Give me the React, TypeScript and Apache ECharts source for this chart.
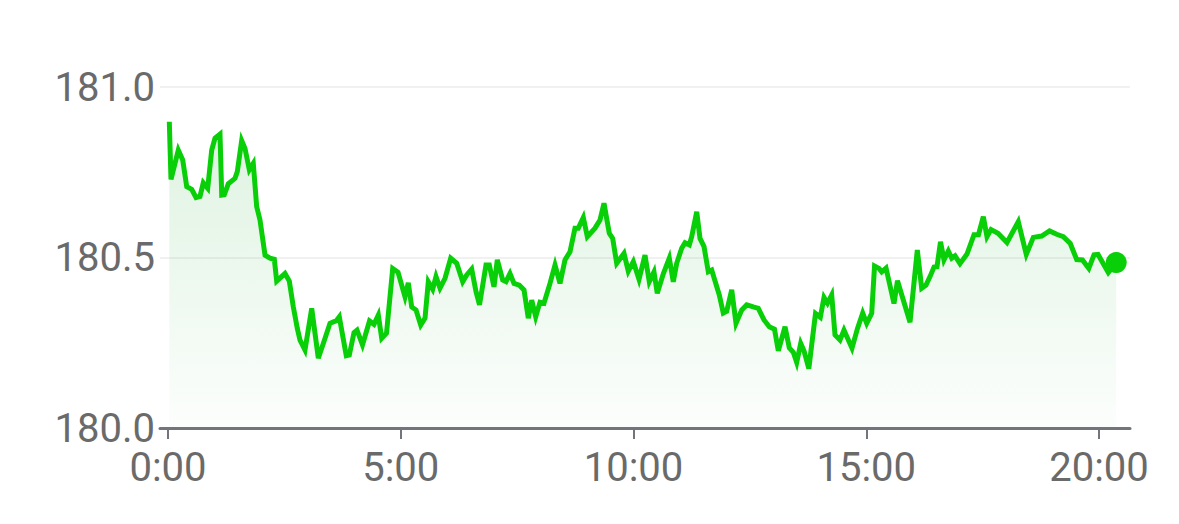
import React, { useEffect, useRef } from "react";
import * as echarts from "echarts";

// time in hours since 0:00
const hours: number[] = [
  0.028, 0.064, 0.221, 0.316, 0.402, 0.509, 0.602, 0.687, 0.758, 0.853,
  0.939, 1.010, 1.117, 1.154, 1.209, 1.295, 1.439, 1.489, 1.583, 1.654,
  1.747, 1.832, 1.905, 1.976, 2.084, 2.191, 2.284, 2.335, 2.513, 2.606,
  2.692, 2.778, 2.836, 2.943, 3.087, 3.229, 3.336, 3.480, 3.620, 3.680,
  3.830, 3.895, 3.996, 4.060, 4.178, 4.329, 4.425, 4.518, 4.591, 4.694,
  4.827, 4.941, 5.091, 5.162, 5.235, 5.328, 5.429, 5.521, 5.592, 5.686,
  5.757, 5.843, 5.951, 6.073, 6.202, 6.331, 6.417, 6.524, 6.617, 6.692,
  6.831, 6.902, 7.003, 7.074, 7.190, 7.261, 7.347, 7.433, 7.547, 7.648,
  7.740, 7.813, 7.899, 7.991, 8.077, 8.206, 8.314, 8.421, 8.528, 8.636,
  8.743, 8.814, 8.922, 9.008, 9.173, 9.280, 9.366, 9.480, 9.553, 9.639,
  9.796, 9.888, 9.996, 10.118, 10.247, 10.339, 10.440, 10.511, 10.640, 10.769,
  10.855, 10.928, 11.035, 11.106, 11.199, 11.250, 11.358, 11.429, 11.515, 11.607,
  11.680, 11.843, 11.929, 12.002, 12.110, 12.202, 12.325, 12.432, 12.574, 12.681,
  12.804, 12.917, 13.029, 13.111, 13.255, 13.347, 13.433, 13.506, 13.592, 13.663,
  13.766, 13.910, 14.013, 14.093, 14.168, 14.258, 14.329, 14.436, 14.522, 14.694,
  14.812, 14.924, 15.010, 15.117, 15.178, 15.274, 15.332, 15.425, 15.596, 15.671,
  15.940, 16.097, 16.191, 16.284, 16.370, 16.456, 16.520, 16.595, 16.670, 16.763,
  16.836, 16.907, 17.014, 17.164, 17.315, 17.411, 17.515, 17.594, 17.680, 17.830,
  18.023, 18.266, 18.438, 18.589, 18.769, 18.937, 19.091, 19.233, 19.383, 19.521,
  19.645, 19.781, 19.893, 19.979, 20.200, 20.370,
];

const prices: number[] = [
  180.898, 180.729, 180.815, 180.786, 180.708, 180.700, 180.676, 180.679, 180.719, 180.703,
  180.815, 180.850, 180.862, 180.683, 180.684, 180.716, 180.732, 180.752, 180.843, 180.820,
  180.757, 180.776, 180.649, 180.610, 180.507, 180.498, 180.495, 180.431, 180.453, 180.431,
  180.355, 180.292, 180.258, 180.229, 180.351, 180.205, 180.248, 180.307, 180.315, 180.326,
  180.212, 180.214, 180.280, 180.287, 180.244, 180.314, 180.304, 180.331, 180.263, 180.278,
  180.468, 180.457, 180.385, 180.426, 180.355, 180.346, 180.302, 180.322, 180.429, 180.407,
  180.444, 180.410, 180.439, 180.498, 180.483, 180.429, 180.449, 180.466, 180.400, 180.361,
  180.478, 180.478, 180.414, 180.493, 180.434, 180.429, 180.453, 180.424, 180.419, 180.405,
  180.322, 180.375, 180.326, 180.369, 180.366, 180.424, 180.478, 180.424, 180.493, 180.517,
  180.586, 180.586, 180.617, 180.561, 180.586, 180.610, 180.659, 180.571, 180.556, 180.483,
  180.512, 180.460, 180.488, 180.436, 180.507, 180.429, 180.458, 180.395, 180.452, 180.498,
  180.429, 180.483, 180.527, 180.543, 180.537, 180.561, 180.634, 180.556, 180.532, 180.458,
  180.463, 180.390, 180.337, 180.342, 180.405, 180.307, 180.346, 180.361, 180.355, 180.351,
  180.317, 180.297, 180.290, 180.226, 180.297, 180.235, 180.222, 180.192, 180.248, 180.226,
  180.174, 180.336, 180.325, 180.383, 180.366, 180.390, 180.273, 180.258, 180.287, 180.234,
  180.292, 180.337, 180.307, 180.336, 180.475, 180.468, 180.458, 180.469, 180.365, 180.432,
  180.310, 180.522, 180.410, 180.419, 180.444, 180.472, 180.473, 180.546, 180.493, 180.519,
  180.498, 180.505, 180.482, 180.510, 180.567, 180.567, 180.620, 180.561, 180.582, 180.571,
  180.544, 180.605, 180.509, 180.559, 180.563, 180.578, 180.568, 180.561, 180.541, 180.494,
  180.493, 180.468, 180.508, 180.509, 180.456, 180.485,
];

const xTicks: number[] = [0, 5, 10, 15, 20];
const yTicks: number[] = [180.0, 180.5, 181.0];

export default function App() {
  const ref = useRef<HTMLDivElement>(null);
  useEffect(() => {
    document.body.style.margin = "0";
    if (!ref.current) return;
    const chart = echarts.init(ref.current, null, { renderer: "svg" });
    const data = hours.map((h, i) => [h, prices[i]]);
    const last = data[data.length - 1];
    const green = "#08cf08";
    chart.setOption({
      animation: false,
      grid: { left: 160, right: 49, top: 87, bottom: 96, containLabel: false },
      xAxis: {
        type: "value",
        min: -0.172,
        max: 20.666,
        axisLine: { show: true, lineStyle: { color: "#72757c", width: 3 } },
        axisTick: {
          show: true,
          customValues: xTicks,
          length: 11,
          lineStyle: { color: "#72757c", width: 2 },
        },
        axisLabel: {
          customValues: xTicks,
          formatter: (v: number) => `${v}:00`,
          color: "#6a6a6a",
          fontSize: 40,
          fontFamily: "Roboto",
          margin: 19,
        },
        splitLine: { show: false },
      },
      yAxis: {
        type: "value",
        min: yTicks[0],
        max: yTicks[yTicks.length - 1],
        interval: 0.5,
        axisLine: { show: false },
        axisTick: { show: false },
        axisLabel: {
          formatter: (v: number) => v.toFixed(1),
          color: "#6a6a6a",
          fontSize: 40,
          fontFamily: "Roboto",
          margin: 5,
        },
        splitLine: { show: true, lineStyle: { color: "#f1f1f1", width: 2 } },
      },
      series: [
        {
          type: "line",
          data,
          showSymbol: false,
          symbol: "none",
          lineStyle: { color: green, width: 5, join: "miter" },
          areaStyle: {
            color: new echarts.graphic.LinearGradient(0, 0, 0, 1, [
              { offset: 0, color: "rgba(40,175,60,0.22)" },
              { offset: 1, color: "rgba(40,175,60,0.02)" },
            ]),
          },
          z: 2,
        },
        {
          type: "scatter",
          data: [last],
          symbol: "circle",
          symbolSize: 21,
          itemStyle: { color: green, opacity: 1 },
          z: 3,
        },
      ],
    });
    return () => chart.dispose();
  }, []);
  return <div ref={ref} style={{ width: 1179, height: 524 }} />;
}
